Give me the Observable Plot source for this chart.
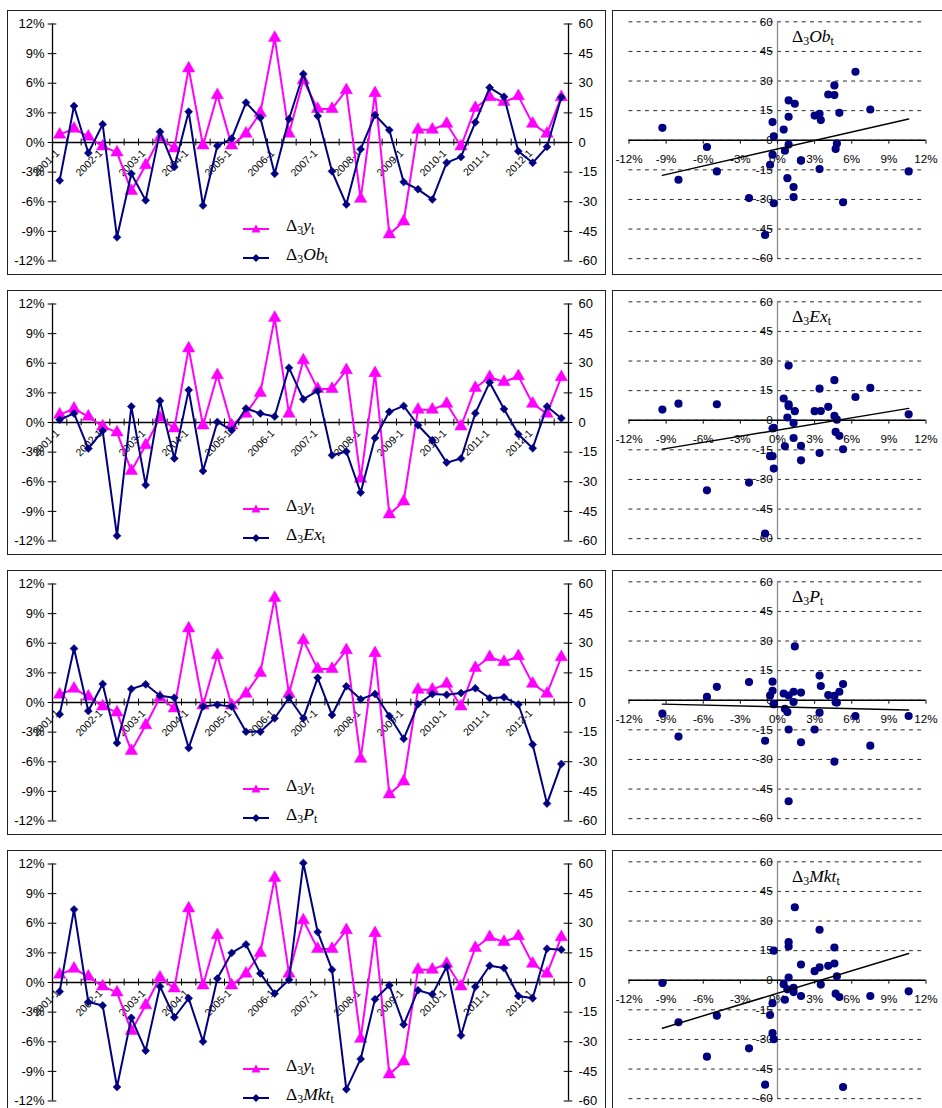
<!DOCTYPE html>
<html>
<head>
<meta charset="utf-8">
<script src="https://cdn.jsdelivr.net/npm/d3@7"></script>
<script src="https://cdn.jsdelivr.net/npm/@observablehq/plot@0.6"></script>
<style>
  html, body { margin: 0; padding: 0; background: #fff; }
  #root { position: relative; width: 942px; height: 1108px; overflow: hidden; background: #fff; }
  .frame { position: absolute; border: 1.5px solid #222; box-sizing: border-box; }
  .plotbox { position: absolute; }
  .plotbox svg { display: block; overflow: visible; }
  .serif { position: absolute; font-family: "Liberation Serif", "Times New Roman", serif; font-size: 17.5px; color: #000; white-space: nowrap; line-height: 1; }
  .serif sub { font-size: 0.68em; vertical-align: -0.28em; line-height: 0; }
  .serif i { font-style: italic; }
  .leg { position: absolute; }
</style>
</head>
<body>
<div id="root"></div>
<script>
// ---------- data ----------
const periods = [
  "2001-1","2001-2","2001-3","2002-1","2002-2","2002-3","2003-1","2003-2","2003-3",
  "2004-1","2004-2","2004-3","2005-1","2005-2","2005-3","2006-1","2006-2","2006-3",
  "2007-1","2007-2","2007-3","2008-1","2008-2","2008-3","2009-1","2009-2","2009-3",
  "2010-1","2010-2","2010-3","2011-1","2011-2","2011-3","2012-1","2012-2","2012-3"
];
// Δ3 y_t (left axis, %)
const dY = [0.8, 1.4, 0.6, -0.4, -1.0, -4.9, -2.3, 0.5, -0.6, 7.5, -0.3, 4.8,
            -0.3, 0.9, 3.0, 10.6, 0.9, 6.3, 3.4, 3.4, 5.3, -5.7, 5.0, -9.3,
            -8.0, 1.3, 1.3, 1.9, -0.4, 3.5, 4.6, 4.1, 4.7, 1.9, 0.9, 4.6];
// right-axis series
const dOb = [-19.2, 18.5, -5.3, 9.2, -48.0, -15.8, -29.3, 5.4, -12.4, 15.6, -31.9, -1.7,
             2.0, 20.2, 12.5, -15.8, 11.9, 34.7, 13.4, -14.6, -31.4, -3.4, 13.9, 6.3,
             -20.0, -23.7, -28.8, -10.2, -7.3, 10.2, 27.8, 23.2, -4.4, -10.3, -2.2, 22.9];
const dEx = [1.4, 4.6, -13.2, -4.2, -57.4, 8.1, -31.6, 11.0, -18.2, 16.4, -24.5, 0.3,
             -3.9, 7.1, 4.6, 3.0, 27.7, 11.8, 16.0, -16.6, -14.7, -35.5, -7.9, 5.4,
             8.4, -1.4, -9.0, -20.3, -18.2, 4.7, 20.3, 6.8, -5.9, -13.0, 8.1, 2.2];
const dP = [-6.0, 27.3, -4.3, 9.4, -20.5, 6.8, 9.2, 3.4, 2.4, -23.0, -2.0, -1.2,
            -2.0, -14.8, -14.8, -8.0, 2.4, -8.0, 12.5, -6.3, 8.2, 1.7, 4.3, -6.8,
            -18.4, -0.9, 4.3, 3.9, 4.8, 7.2, 2.2, 2.6, -1.0, -21.3, -51.2, -31.1];
const dMkt = [-4.6, 37.0, -9.9, -11.6, -52.9, -17.9, -34.5, -2.0, -17.6, -8.0, -29.9, 2.0,
              15.0, 19.3, 4.6, -5.6, 1.4, 60.5, 25.6, 6.5, -54.1, -38.7, -8.5, -1.4,
              -21.3, -3.9, -6.0, 8.0, -26.8, -2.2, 8.5, 7.3, -6.8, -8.0, 17.1, 16.6];

const pctTicks = [-12, -9, -6, -3, 0, 3, 6, 9, 12];
const rightTicks = [-60, -45, -30, -15, 0, 15, 30, 45, 60];
const scatterXTicks = [-12, -9, -6, -3, 0, 3, 6, 9, 12];
const scatterYTicks = [-60, -45, -30, -15, 0, 15, 30, 45, 60];

const seriesNames = ["Ob", "Ex", "P", "Mkt"];
const seriesValues = [dOb, dEx, dP, dMkt];

// ---------- styles ----------
const MAGENTA = "#FF00FF";
const NAVY = "#000080";
const ratio = rightTicks[rightTicks.length - 1] / pctTicks[pctTicks.length - 1];
const yLo = pctTicks[0], yHi = pctTicks[pctTicks.length - 1];
const sxLo = scatterXTicks[0], sxHi = scatterXTicks[scatterXTicks.length - 1];
const syLo = scatterYTicks[0], syHi = scatterYTicks[scatterYTicks.length - 1];
const n = periods.length;
const xL = -0.5, xR = n - 0.5;
const boundaries = d3.range(n + 1).map(k => k - 0.5);
const yearIdx = periods.map((p, i) => i).filter(i => periods[i].endsWith("-1"));

const root = document.getElementById("root");

function place(el, left, top, cls) {
  const d = document.createElement("div");
  d.className = cls;
  d.style.left = left + "px";
  d.style.top = top + "px";
  if (el) d.appendChild(el);
  root.appendChild(d);
  return d;
}

function leftPanel(values) {
  const data = periods.map((p, i) => ({i, y: dY[i], v: values[i] / ratio}));
  return Plot.plot({
    width: 598, height: 264,
    marginLeft: 45, marginRight: 37, marginTop: 13.5, marginBottom: 13.5,
    x: {domain: [xL, xR], axis: null},
    y: {domain: [yLo, yHi], axis: null},
    style: {fontFamily: "'Liberation Sans', Arial, sans-serif", fontSize: "13px", background: "transparent", color: "#000"},
    marks: [
      Plot.ruleY([0], {x1: xL, x2: xR, stroke: "#000", strokeWidth: 1.3}),
      Plot.ruleX([xL, xR], {y1: yLo, y2: yHi, stroke: "#000", strokeWidth: 1.3}),
      Plot.ruleX(boundaries, {x: d => d, y1: -0.35, y2: 0.35, stroke: "#000", strokeWidth: 1}),
      Plot.ruleY(pctTicks, {y: d => d, x1: xL - 0.3, x2: xL + 0.3, stroke: "#000", strokeWidth: 1}),
      Plot.ruleY(rightTicks, {y: d => d / ratio, x1: xR - 0.3, x2: xR + 0.3, stroke: "#000", strokeWidth: 1}),
      Plot.text(pctTicks, {x: xL, y: d => d, text: d => d + "%", textAnchor: "end", dx: -8, fill: "#000"}),
      Plot.text(rightTicks, {x: xR, y: d => d / ratio, text: d => String(d), textAnchor: "start", dx: 10, fill: "#000"}),
      Plot.text(yearIdx, {x: d => d, y: 0, text: d => periods[d], rotate: -45, textAnchor: "end", lineAnchor: "middle", dx: -2, dy: 9, fontSize: 10.5, fill: "#000"}),
      Plot.line(data, {x: "i", y: "y", stroke: MAGENTA, strokeWidth: 2}),
      Plot.dot(data, {x: "i", y: "y", symbol: "triangle", r: 4.6, fill: MAGENTA, stroke: MAGENTA, strokeWidth: 0.5}),
      Plot.line(data, {x: "i", y: "v", stroke: NAVY, strokeWidth: 2}),
      Plot.dot(data, {x: "i", y: "v", symbol: "diamond2", r: 3.6, fill: NAVY, stroke: NAVY, strokeWidth: 0.5})
    ]
  });
}

function scatterPanel(values) {
  const all = periods.map((p, i) => ({x: dY[i], y: values[i]}));
  const shown = all.filter(d => d.y >= syLo && d.y <= syHi && d.x >= sxLo && d.x <= sxHi);
  return Plot.plot({
    width: 340, height: 264,
    marginLeft: 17, marginRight: 17, marginTop: 11.7, marginBottom: 8.3,
    x: {domain: [sxLo, sxHi], axis: null},
    y: {domain: [syLo, syHi], axis: null},
    style: {fontFamily: "'Liberation Sans', Arial, sans-serif", fontSize: "12px", background: "transparent", color: "#000"},
    marks: [
      Plot.ruleY(scatterYTicks, {y: d => d, x1: sxLo, x2: sxHi, stroke: "#222", strokeWidth: 1, strokeDasharray: "4,4.5"}),
      Plot.ruleX([0], {y1: syLo, y2: syHi, stroke: "#888", strokeWidth: 1.3}),
      Plot.ruleY([0], {x1: sxLo, x2: sxHi, stroke: "#000", strokeWidth: 1.3}),
      Plot.ruleX(scatterXTicks, {x: d => d, y1: 0, y2: -2, stroke: "#000", strokeWidth: 1}),
      Plot.text(scatterXTicks, {x: d => d, y: 0, text: d => d + "%", dy: 20, fill: "#000"}),
      Plot.text(scatterYTicks, {x: 0, y: d => d, text: d => String(d), textAnchor: "end", dx: -5, fill: "#000"}),
      Plot.dot(shown, {x: "x", y: "y", r: 4.2, fill: NAVY, stroke: "none"}),
      Plot.linearRegressionY(all, {x: "x", y: "y", ci: 0, stroke: "#000", strokeWidth: 1.5})
    ]
  });
}

function legendItem(color, symbol) {
  const ns = "http://www.w3.org/2000/svg";
  const svg = document.createElementNS(ns, "svg");
  svg.setAttribute("width", "28"); svg.setAttribute("height", "12");
  const line = document.createElementNS(ns, "line");
  line.setAttribute("x1", "1"); line.setAttribute("x2", "27");
  line.setAttribute("y1", "6"); line.setAttribute("y2", "6");
  line.setAttribute("stroke", color); line.setAttribute("stroke-width", "2");
  svg.appendChild(line);
  const path = document.createElementNS(ns, "path");
  path.setAttribute("d", symbol === "triangle" ? "M14,1.5L18.5,9.5L9.5,9.5Z" : "M14,2L18,6L14,10L10,6Z");
  path.setAttribute("fill", color);
  svg.appendChild(path);
  return svg;
}

function label(html, left, top) {
  const d = place(null, left, top, "serif");
  d.innerHTML = html;
  return d;
}

const rowStride = 280, top0 = 10;
const leftX = 7, rightX = 612;

seriesNames.forEach((name, r) => {
  const top = top0 + r * rowStride;
  const f1 = place(null, leftX, top, "frame");
  f1.style.width = "599px"; f1.style.height = "265px";
  place(leftPanel(seriesValues[r]), leftX, top, "plotbox");
  place(legendItem(MAGENTA, "triangle"), leftX + 235, top + 211, "leg");
  place(legendItem(NAVY, "diamond"), leftX + 235, top + 240, "leg");
  label("&Delta;<sub>3</sub><i>y</i><sub>t</sub>", leftX + 279, top + 207);
  label("&Delta;<sub>3</sub><i>" + name + "</i><sub>t</sub>", leftX + 279, top + 236);
  const f2 = place(null, rightX, top, "frame");
  f2.style.width = "345px"; f2.style.height = "265px";
  place(scatterPanel(seriesValues[r]), rightX, top, "plotbox");
  label("&Delta;<sub>3</sub><i>" + name + "</i><sub>t</sub>", rightX + 180, top + 18);
});
</script>
</body>
</html>
